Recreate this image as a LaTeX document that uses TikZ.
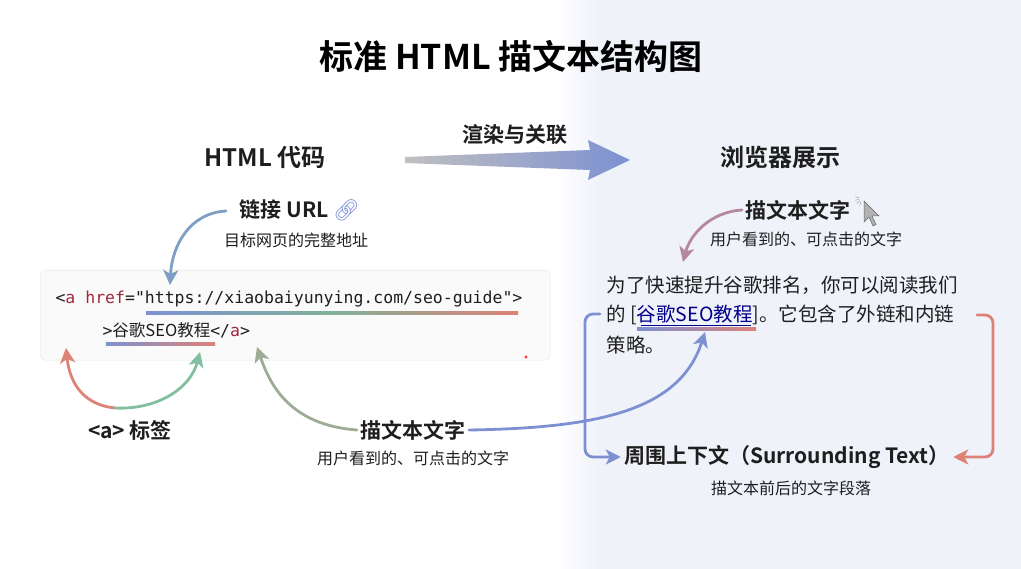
\documentclass[tikz,border=0pt]{standalone}
\usepackage{fontspec}
\setmainfont{Noto Sans CJK SC}[BoldFont={Noto Sans CJK SC Bold}]
\newfontfamily\codefont{DejaVu Sans Mono}
\newfontfamily\emojifont{Noto Emoji}
\usetikzlibrary{arrows.meta,shadings}
\definecolor{cblue}{RGB}{125,145,210}
\definecolor{cgreen}{RGB}{130,190,160}
\definecolor{cred}{RGB}{220,130,120}
\definecolor{ckw}{RGB}{160,40,60}
\definecolor{ctxt}{RGB}{30,30,30}
\definecolor{bgr}{RGB}{240,242,250}
\tikzset{
  conn/.style={line width=2.8pt,-{Stealth[length=15pt,width=15pt,inset=4pt]},line cap=round},
  ttl/.style={font=\bfseries\fontsize{24}{28}\selectfont,text=ctxt},
  lbl/.style={font=\bfseries\fontsize{21}{25}\selectfont,text=ctxt},
  sub/.style={font=\fontsize{16}{19}\selectfont,text=ctxt},
  para/.style={font=\fontsize{19.5}{23}\selectfont,text=ctxt,anchor=west},
  code/.style={font=\codefont\fontsize{16.5}{19}\selectfont,anchor=west,text=ctxt},
}
\begin{document}
\begin{tikzpicture}[x=1pt,y=-1pt]
\useasboundingbox (0,0) rectangle (1021,569);
\fill[white] (0,0) rectangle (1021,569);
\shade[left color=white,right color=bgr] (555,0) rectangle (600,569);
\fill[bgr] (600,0) rectangle (1021,569);

\node[font=\bfseries\fontsize{34}{40}\selectfont,text=black] (title) at (511,56) {标准 HTML 描文本结构图};
\node[ttl] (hcode) at (265,157) {HTML 代码};
\node[ttl] (browser) at (780,157) {浏览器展示};
\shade[left color=gray!50,right color=cblue]
  (405,157) -- (590,150) -- (588,140) -- (630,160) -- (588,180) -- (590,170) -- (405,163) -- cycle;
\node[lbl] (render) at (515,135) {渲染与关联};

\node[lbl,anchor=west] (url) at (236,210) {链接 URL {\emojifont\textcolor{cblue}{🔗}}};
\node[sub] (urlsub) at (296,240) {目标网页的完整地址};

\node[draw=gray!20,fill=gray!4,rounded corners=5pt,minimum width=510pt,minimum height=90pt,anchor=north west] (box) at (40,270) {};
\node[code] (l1) at (52,299) {<\textcolor{ckw}{a} \textcolor{ckw}{href}="https://xiaobaiyunying.com/seo-guide">};
\node[code] (l2) at (99,330) {>{\fontspec{Noto Sans CJK SC}谷歌SEO教程}</\textcolor{ckw}{a}>};
\shade[left color=cblue,right color=cred,middle color=cgreen!80!gray] (146,312) rectangle (518,315);
\shade[left color=cblue,right color=cred] (106,343) rectangle (215,346);
\fill[red!80] (526,357) circle (1.6);

\coordinate (urlstart) at (226,211);
\draw[conn,cblue!70!cgreen] (urlstart) .. controls (190,213) and (172,245) .. (170,285);
\node[lbl] (atag) at (130,430) {<a> 标签};
\coordinate (am) at (115,408);
\draw[conn,cred] (am) .. controls (85,405) and (70,385) .. (66,348);
\draw[conn,cgreen] (am) .. controls (155,410) and (190,390) .. (200,352);
\node[lbl] (anchorL) at (413,430) {描文本文字};
\node[sub] (anchorLsub) at (413,458) {用户看到的、可点击的文字};
\draw[conn,cgreen!70!cred] (anchorL.west) .. controls (290,425) and (270,385) .. (257,347);
\draw[conn,cblue] (anchorL.east) .. controls (600,428) and (680,410) .. (705,332);

\node[lbl] (anchorR) at (798,210) {描文本文字};
\draw[fill=gray!60,draw=gray!80!black,line width=0.5pt] (864,201) -- (864,222) -- (869,217) -- (873,226) -- (876,224.5) -- (872,216) -- (879,216) -- cycle;
\foreach \a in {110,140,170,200} \draw[gray!70,line width=0.6pt] (862,199)+(\a:3) -- +(\a:7);
\node[sub] (anchorRsub) at (806,239) {用户看到的、可点击的文字};
\draw[conn,cred!60!cblue] (anchorR.west) .. controls (710,212) and (690,235) .. (683,262);
\node[para] (p1) at (603,285) {为了快速提升谷歌排名，你可以阅读我们};
\node[para] (p2) at (603,315) {的 [\textcolor{blue!55!black}{谷歌SEO教程}]。它包含了外链和内链};
\node[para] (p3) at (603,345) {策略。};
\draw[blue!55!black,line width=0.6pt] (641,325) -- (751,325);
\shade[left color=cblue,right color=cred] (637,328) rectangle (756,331);

\node[lbl] (surr) at (787,457) {周围上下文（Surrounding Text）};
\node[sub] (surrsub) at (791,488) {描文本前后的文字段落};
\draw[conn,cblue,rounded corners=8pt] (600,314) -- (585,314) -- (585,457) -- (surr.west);
\draw[conn,cred,rounded corners=8pt] (977,315) -- (993,315) -- (993,457) -- (surr.east);
\end{tikzpicture}
\end{document}
